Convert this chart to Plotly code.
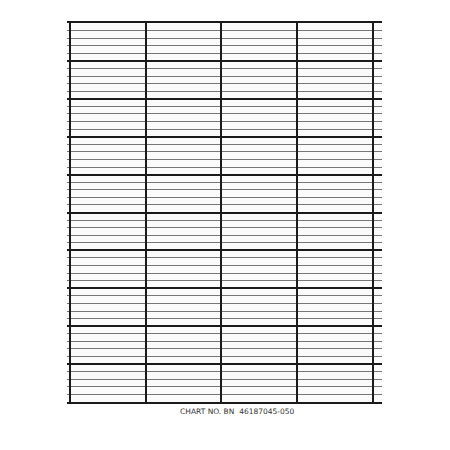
import plotly.graph_objects as go

columns = [0, 1, 2, 3, 4]
major_rows = list(range(0, 51, 5))
minor_rows = list(range(0, 51, 1))
chart_label = "CHART NO. BN  46187045-050"

fig = go.Figure()
fig.add_trace(go.Scatter(x=[columns[0]], y=[major_rows[0]], mode="markers",
                         marker=dict(opacity=0), hoverinfo="skip", showlegend=False))
fig.update_layout(
    width=450, height=450,
    margin=dict(l=59, r=76, t=15, b=56),
    paper_bgcolor="white", plot_bgcolor="#fbfbfb",
    xaxis=dict(range=[-0.04, 4.12], tickvals=columns, showticklabels=False,
               showgrid=True, gridcolor="#1a1a1a", gridwidth=2, zeroline=False,
               showline=True, mirror=True, linecolor="#1a1a1a", linewidth=2, ticks=""),
    yaxis=dict(range=[0, 50], tickvals=major_rows, showticklabels=False,
               showgrid=True, gridcolor="#1a1a1a", gridwidth=2, zeroline=False,
               showline=False, ticks="",
               minor=dict(tickvals=minor_rows, showgrid=True, gridcolor="#777777", gridwidth=1.3)),
    annotations=[dict(text=chart_label, xref="paper", yref="paper", x=0.54, y=-0.008,
                      xanchor="center", yanchor="top", showarrow=False,
                      font=dict(family="DejaVu Sans", size=7.5, color="#333"))],
)
fig.write_html("out.html")
